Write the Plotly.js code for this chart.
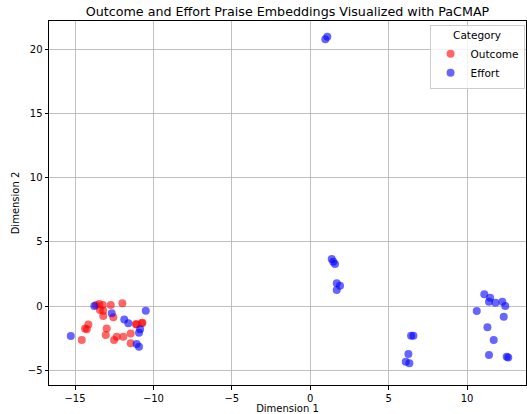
<!DOCTYPE html>
<html><head><meta charset="utf-8">
<script src="https://cdn.plot.ly/plotly-3.0.1.min.js"></script>
<style>html,body{margin:0;padding:0;background:#fff}</style>
</head><body><div id="chart" style="width:527px;height:414px"></div>
<script>
const outcomeX = [-13.66,-13.45,-13.23,-12.72,-11.98,-13.41,-13.20,-13.20,-12.56,-14.15,-14.36,-14.25,-14.57,-12.98,-13.04,-12.34,-12.51,-11.92,-11.45,-11.07,-10.75,-11.45,-11.12,-10.70];
const outcomeY = [0.08,0.16,0.08,0.08,0.21,-0.31,-0.37,-0.78,-0.88,-1.43,-1.74,-1.81,-2.65,-1.74,-2.26,-2.39,-2.65,-2.39,-2.13,-1.43,-1.35,-2.90,-1.40,-1.30];
const effortX = [-13.77,-12.66,-11.86,-11.60,-10.85,-10.92,-10.49,-15.27,-11.07,-10.92,
  0.96,1.09,
  1.37,1.47,1.58,1.69,1.90,1.69,
  6.43,6.58,6.26,6.09,6.32,
  11.10,11.47,11.40,11.81,12.25,12.44,10.62,12.34,11.30,11.70,11.40,12.53,12.63];
const effortY = [0.0,-0.57,-1.04,-1.35,-1.81,-2.08,-0.37,-2.34,-2.96,-3.17,
  20.77,20.97,
  3.66,3.45,3.27,1.77,1.58,1.25,
  -2.31,-2.31,-3.74,-4.34,-4.46,
  0.91,0.65,0.34,0.26,0.34,0.0,-0.39,-0.83,-1.66,-2.65,-3.82,-3.95,-4.0];
const seriesNames = ["Outcome","Effort"];

const font = {family:"DejaVu Sans, sans-serif", size:10, color:"#000"};
const traces = [
  {x:outcomeX, y:outcomeY, name:seriesNames[0], type:"scatter", mode:"markers",
   marker:{color:"red", opacity:0.6, size:8, line:{width:0}}},
  {x:effortX, y:effortY, name:seriesNames[1], type:"scatter", mode:"markers",
   marker:{color:"blue", opacity:0.6, size:8, line:{width:0}}}
];
const axisCommon = {showline:true, mirror:true, linecolor:"#000", linewidth:1,
  ticks:"outside", ticklen:3.5, tickcolor:"#000", showgrid:true, gridcolor:"#b0b0b0",
  gridwidth:0.8, zeroline:false, tickfont:font};
const layout = {
  width:527, height:414,
  margin:{l:49, r:1, t:21, b:29},
  paper_bgcolor:"#fff", plot_bgcolor:"#fff",
  font:font,
  title:{text:"Outcome and Effort Praise Embeddings Visualized with PaCMAP", font:{family:"DejaVu Sans, sans-serif", size:12.7, color:"#000"}, xref:"paper", x:0.5, xanchor:"center", y:0.983, yanchor:"top"},
  xaxis:Object.assign({}, axisCommon, {range:[-16.66,13.76], tickvals:[-15,-10,-5,0,5,10], title:{text:"Dimension 1", font:font, standoff:4}}),
  yaxis:Object.assign({}, axisCommon, {range:[-6.15,22.2], tickvals:[-5,0,5,10,15,20], title:{text:"Dimension 2", font:font, standoff:6}}),
  showlegend:true,
  legend:{x:0.997, y:0.99, xanchor:"right", yanchor:"top", bgcolor:"rgba(255,255,255,0.8)",
    bordercolor:"#ccc", borderwidth:1, font:{family:"DejaVu Sans, sans-serif", size:10.5, color:"#000"},
    title:{text:"Category", font:{family:"DejaVu Sans, sans-serif", size:10.5, color:"#000"}, side:"top center"}, itemsizing:"trace", tracegroupgap:2}
};
Plotly.newPlot("chart", traces, layout, {displayModeBar:false, staticPlot:true});
</script></body></html>
